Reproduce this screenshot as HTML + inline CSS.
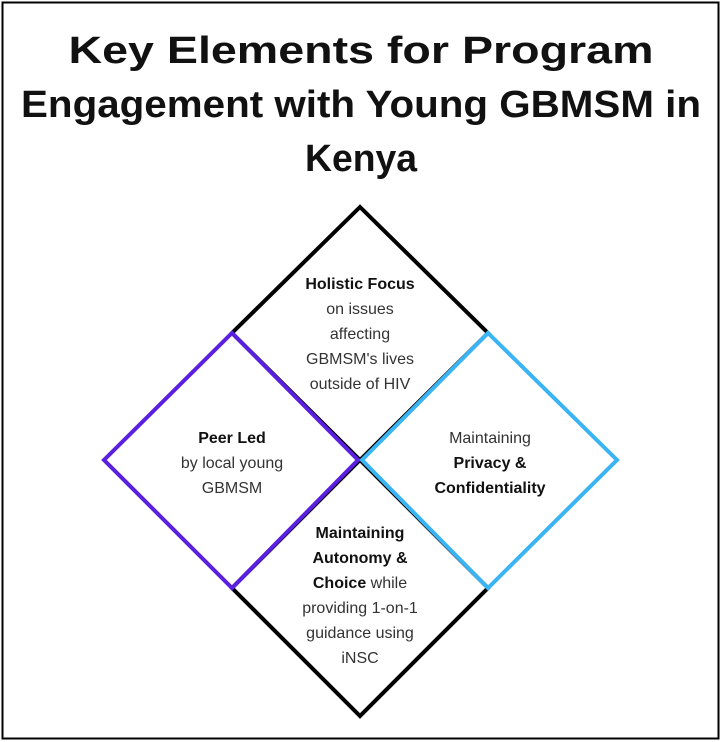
<!DOCTYPE html>
<html><head><meta charset="utf-8"><style>
html,body{margin:0;padding:0;background:#fff;}
svg{display:block;}
text{font-family:"Liberation Sans",sans-serif;}
</style></head><body>
<svg width="722" height="742" viewBox="0 0 722 742" xmlns="http://www.w3.org/2000/svg">
<rect x="2.5" y="2.5" width="716" height="736" fill="#fff" stroke="#000" stroke-width="2"/>
<g font-weight="bold" font-size="38" fill="#111" text-anchor="middle">
<text x="361" y="63" textLength="585" lengthAdjust="spacingAndGlyphs">Key Elements for Program</text>
<text x="361" y="117" textLength="680" lengthAdjust="spacingAndGlyphs">Engagement with Young GBMSM in</text>
<text x="361" y="171" textLength="112" lengthAdjust="spacingAndGlyphs">Kenya</text>
</g>
<g fill="none" stroke-width="4" stroke-linejoin="miter">
<polygon points="360,207 488,333 360,460 232,333" stroke="#000"/>
<polygon points="360,460 488,588 360,716 232,588" stroke="#000"/>
<polygon points="232,333 358,460 232,588 104,460" stroke="#5b1fe0"/>
<polygon points="488,333 617,460 488,588 362,460" stroke="#3ab4f5"/>
</g>
<g font-size="16" fill="#333" text-anchor="middle">
<text x="360" y="289" font-weight="bold" fill="#111">Holistic Focus</text>
<text x="360" y="314">on issues</text>
<text x="360" y="339">affecting</text>
<text x="360" y="364">GBMSM's lives</text>
<text x="360" y="389">outside of HIV</text>

<text x="232" y="443" font-weight="bold" fill="#111">Peer Led</text>
<text x="232" y="468">by local young</text>
<text x="232" y="493">GBMSM</text>

<text x="490" y="443">Maintaining</text>
<text x="490" y="468" font-weight="bold" fill="#111">Privacy &amp;</text>
<text x="490" y="493" font-weight="bold" fill="#111">Confidentiality</text>

<text x="360" y="538" font-weight="bold" fill="#111">Maintaining</text>
<text x="360" y="563" font-weight="bold" fill="#111">Autonomy &amp;</text>
<text x="360" y="588"><tspan font-weight="bold" fill="#111">Choice</tspan> while</text>
<text x="360" y="613">providing 1-on-1</text>
<text x="360" y="638">guidance using</text>
<text x="360" y="663">iNSC</text>
</g>
</svg>
</body></html>
